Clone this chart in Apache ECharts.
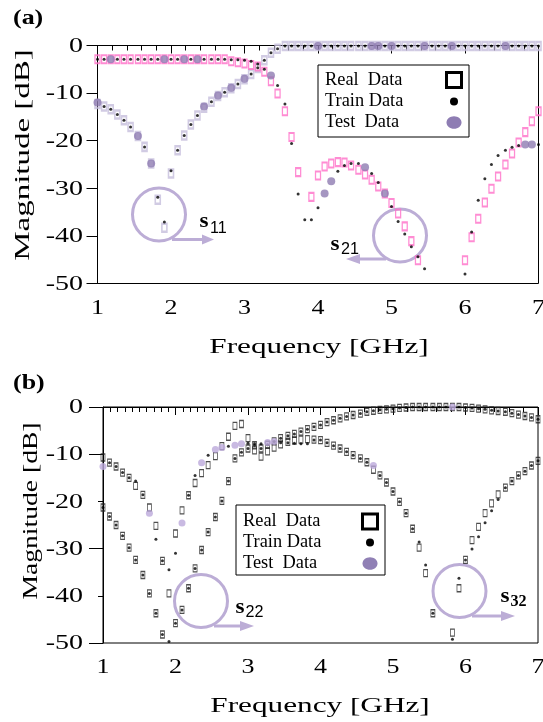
<!DOCTYPE html>
<html>
<head>
    <meta charset="utf-8">
    <title>S-parameters</title>
    <script src="https://cdnjs.cloudflare.com/ajax/libs/echarts/6.0.0/echarts.min.js"></script>
    <style>
        html, body { margin: 0; padding: 0; background: #fff; }
        #main { width: 543px; height: 722px; }
    </style>
</head>
<body>
    <div id="main"></div>
    <script type="text/javascript">
        // frequency grid (GHz), shared by every curve
        var freq = [
            1.00,1.09,1.18,1.27,1.36,1.45,1.55,1.64,1.73,1.82,1.91,
            2.00,2.09,2.18,2.27,2.36,2.45,2.55,2.64,2.73,2.82,2.91,
            3.00,3.09,3.18,3.27,3.36,3.45,3.55,3.64,3.73,3.82,3.91,
            4.00,4.09,4.18,4.27,4.36,4.45,4.55,4.64,4.73,4.82,4.91,
            5.00,5.09,5.18,5.27,5.36,5.45,5.55,5.64,5.73,5.82,5.91,
            6.00,6.09,6.18,6.27,6.36,6.45,6.55,6.64,6.73,6.82,6.91,
            7.00
        ];
        var xTicks = [1, 2, 3, 4, 5, 6, 7];
        var yTicks = [0, -10, -20, -30, -40, -50];
        // panel (b): fine ticks every 0.1 GHz up to 4, then every 0.2 GHz
        var bMinorTicks = [
            1.1,1.2,1.3,1.4,1.5,1.6,1.7,1.8,1.9,
            2.1,2.2,2.3,2.4,2.5,2.6,2.7,2.8,2.9,
            3.1,3.2,3.3,3.4,3.5,3.6,3.7,3.8,3.9,
            4.2,4.4,4.6,4.8,5.2,5.4,5.6,5.8,6.2,6.4,6.6,6.8
        ];
        var bLongYTicks = [0, -10, -30, -50];

        // ---- panel (a) ----
        var s11Real = [
            -12.3,-12.8,-13.4,-14.5,-15.7,-17.1,-19.0,-21.3,-24.8,-32.4,-38.3,
            -26.9,-22.0,-18.9,-16.6,-14.7,-13.1,-11.8,-10.6,-9.8,-9.0,-8.1,
            -7.1,-6.0,-4.7,-3.1,-1.5,-0.7,-0.1,-0.1,-0.1,-0.1,-0.1,
            -0.1,-0.1,-0.1,-0.1,-0.1,-0.1,-0.1,-0.1,-0.1,-0.1,-0.1,
            -0.1,-0.1,-0.1,-0.1,-0.1,-0.1,-0.1,-0.1,-0.1,-0.1,-0.1,
            -0.1,-0.1,-0.1,-0.1,-0.1,-0.1,-0.1,-0.1,-0.1,-0.1,-0.1,
            -0.1
        ];
        var s11Train = [
            null,-12.8,-13.4,-14.5,-15.7,-17.1,null,-21.3,null,-31.9,-37.1,
            -26.3,-22.0,-18.9,-16.6,-14.7,null,-11.8,null,-9.8,null,-8.1,
            null,-6.0,-4.7,-3.1,-1.5,-0.7,-0.1,-0.1,-0.1,-0.1,-0.1,
            null,-0.1,-0.1,-0.1,-0.1,-0.1,-0.1,-0.1,null,null,-0.1,
            null,-0.1,-0.1,-0.1,-0.1,null,-0.1,-0.1,-0.1,null,-0.1,
            -0.1,-0.1,-0.1,-0.1,-0.1,-0.1,null,-0.1,-0.1,-0.1,-0.1,
            -0.1
        ];
        var s11Test = [
            [1.00,-12.0],[1.55,-19.0],[1.73,-24.8],[2.45,-12.8],[2.64,-10.5],
            [2.82,-8.9],[3.00,-7.0],[4.00,-0.1],[4.73,-0.1],[4.82,-0.1],
            [5.00,-0.1],[5.45,-0.1],[5.82,-0.1],[6.55,-0.1]
        ];
        var s21Real = [
            -2.9,-2.9,-2.9,-2.9,-2.9,-2.9,-2.9,-2.9,-2.9,-2.9,-2.9,
            -2.9,-2.9,-2.9,-2.9,-2.9,-2.9,-2.9,-2.9,-2.9,-3.3,-3.5,
            -3.8,-4.1,-4.4,-5.5,-7.5,-10.1,-13.8,-19.2,-26.6,null,-31.8,
            -27.3,-25.4,-24.8,-24.5,-24.6,-25.2,-26.1,-27.1,-28.2,-29.6,-31.1,
            -33.1,-35.3,-38.0,-41.1,-45.1,null,null,null,null,null,null,
            -45.1,-40.3,-36.4,-33.0,-30.1,-27.5,-25.0,-22.7,-20.4,-18.2,-15.9,
            -13.8
        ];
        var s21Train = [
            -2.9,-2.9,null,-2.9,-2.9,-2.9,-2.9,-2.9,-2.9,-2.9,null,
            -2.9,-2.9,null,-2.9,null,-2.9,-2.9,-2.9,-2.9,-3.0,-3.0,
            -3.1,-3.3,-3.9,-5.0,null,-8.4,-12.3,-20.6,-31.2,-36.6,-36.6,
            -34.1,null,null,-26.4,-25.2,-24.8,-24.8,null,-26.9,-28.8,null,
            -33.8,-37.0,-39.6,-42.3,-44.4,-46.9,null,null,null,null,null,
            -48.0,-39.2,-32.5,-28.0,-25.0,-23.1,-22.0,-21.4,-21.0,null,null,
            -20.8
        ];
        var s21Test = [
            [1.18,-2.9],[1.91,-2.9],[2.18,-2.9],[2.36,-2.9],[3.36,-6.3],
            [4.09,-31.1],[4.18,-28.5],[4.64,-25.6],[4.91,-31.1],[6.82,-20.8],[6.91,-20.8]
        ];

        // ---- panel (b) ----
        var s22Real = [
            -10.7,-11.8,-12.6,-13.9,-15.0,-16.7,-18.6,-21.3,-25.2,-32.6,-39.5,
            -26.8,-21.9,-18.7,-16.1,-14.0,-12.3,-10.4,-8.3,-6.3,-4.0,-3.6,
            -6.6,-9.2,-10.5,-9.4,-8.6,-7.9,-7.4,-7.1,-6.9,-6.8,-6.9,
            -7.0,-7.6,-8.2,-8.8,-9.5,-10.2,-10.9,-11.7,-13.3,-14.5,-16.0,
            -17.9,-20.1,-22.5,-25.8,-29.8,-35.2,-43.7,null,null,-47.8,-38.4,
            -32.4,-28.2,-25.4,-22.5,-20.4,-18.5,-17.1,-15.7,-14.5,-13.6,-12.4,
            -11.4
        ];
        var s22Train = [
            null,-11.8,-12.6,-13.9,-15.0,-15.7,-18.6,null,-28.0,-32.6,-34.5,
            -31.0,null,-18.7,-14.5,null,-10.2,null,null,-8.3,null,null,
            -7.7,-7.8,-7.8,null,null,-7.6,-7.6,-7.7,-7.8,-7.8,-7.0,
            -7.0,-7.6,-8.2,-8.8,-9.5,-10.2,-10.9,-11.7,null,-14.5,-16.0,
            -17.9,-20.1,-22.5,-25.8,-28.6,-33.5,-43.7,null,null,-49.2,-36.3,
            -32.4,-30.1,-27.5,-24.5,-22.0,-19.6,-17.1,-15.7,-14.5,-13.6,-12.4,
            -11.4
        ];
        var s22Test = [
            [1.00,-12.6],[1.64,-22.5],[2.09,-24.6],[2.36,-11.8],[2.55,-9.0],
            [2.64,-8.6],[2.82,-8.1],[2.91,-7.8],[3.27,-7.5],[3.36,-7.3],[4.73,-12.4]
        ];
        var s32Real = [
            -21.3,-23.2,-25.0,-27.3,-29.8,-32.4,-35.6,-39.5,-43.7,-48.2,null,
            -45.8,-43.0,-38.4,-34.2,-30.3,-26.5,-23.3,-19.9,-15.7,-10.9,-9.6,
            -8.8,-8.1,-8.8,-8.0,-7.3,-6.6,-6.1,-5.7,-5.2,-4.7,-4.2,
            -3.8,-3.2,-2.8,-2.4,-2.0,-1.7,-1.4,-1.0,-0.8,-0.6,-0.5,
            -0.35,-0.2,-0.1,0,0,0,0,0,0,0,0,
            -0.1,-0.2,-0.35,-0.5,-0.7,-0.85,-1.0,-1.3,-1.6,-1.9,-2.2,
            -2.6
        ];
        var s32Train = [
            -21.3,-23.2,-25.0,-27.3,-29.8,-32.4,-35.6,-39.5,-43.7,-48.2,-49.7,
            -45.8,-43.0,-38.4,-34.2,-30.3,-26.5,-23.3,-19.9,-15.7,-10.9,-9.6,
            -8.8,-8.1,-8.8,-8.0,-7.3,-6.6,-6.1,-5.7,-5.2,-4.7,-4.2,
            -3.8,-3.2,-2.8,-2.4,-2.0,-1.7,-1.4,-1.0,-0.8,-0.6,-0.5,
            -0.35,-0.2,-0.1,0,0,0,0,0,0,null,0,
            -0.1,-0.2,-0.35,-0.5,-0.7,-0.85,-1.0,-1.3,-1.6,-1.9,-2.2,
            -2.6
        ];
        var s32Test = [[5.82, 0]];

        var serif = '"Liberation Serif", "Times New Roman", serif';
        var sans = '"Liberation Sans", Arial, sans-serif';

        function pts(arr) {
            var out = [];
            for (var i = 0; i < freq.length; i++) {
                if (arr[i] !== null) out.push([freq[i], arr[i]]);
            }
            return out;
        }

        function realSeries(g, data, color, w, h, lw) {
            return {
                type: 'scatter', xAxisIndex: g, yAxisIndex: g, clip: false,
                symbol: 'rect', symbolSize: [w, h], data: pts(data),
                itemStyle: { color: 'rgba(0,0,0,0)', borderColor: color, borderWidth: lw },
                silent: true
            };
        }
        function trainSeries(g, data) {
            return {
                type: 'scatter', xAxisIndex: g, yAxisIndex: g, clip: false,
                symbol: 'circle', symbolSize: 3, data: pts(data),
                itemStyle: { color: '#000' }, silent: true
            };
        }
        function testSeries(g, data, color, size) {
            return {
                type: 'scatter', xAxisIndex: g, yAxisIndex: g, clip: false,
                symbol: 'circle', symbolSize: size, data: data,
                itemStyle: { color: color }, silent: true
            };
        }

        function xAx(g, minor) {
            return {
                gridIndex: g, type: 'value', min: 1, max: 7, interval: 1, position: 'bottom',
                axisLine: { lineStyle: { color: '#000', width: 1 } },
                axisTick: { length: 8, lineStyle: { color: '#000' } },
                minorTick: { show: minor, splitNumber: 5, length: 5, lineStyle: { color: '#000' } },
                axisLabel: { show: false },
                splitLine: { show: false }
            };
        }
        function yAx(g, len) {
            return {
                gridIndex: g, type: 'value', min: -50, max: 0, interval: 10, position: 'left',
                axisLine: { lineStyle: { color: '#000', width: 1 } },
                axisTick: { length: len, lineStyle: { color: '#000' } },
                axisLabel: { show: false },
                splitLine: { show: false }
            };
        }

        var myChart = echarts.init(document.getElementById('main'), null, { renderer: 'canvas' });

        var option = {
            animation: false,
            backgroundColor: '#fff',
            grid: [
                { left: 97.5, top: 45.5, width: 441, height: 238, show: true, borderColor: '#000', borderWidth: 1 },
                { left: 103, top: 407, width: 435, height: 236, show: true, borderColor: '#000', borderWidth: 1 }
            ],
            xAxis: [
                xAx(0, true),
                xAx(1, false),
                {
                    gridIndex: 1, type: 'value', min: 1, max: 7, position: 'bottom',
                    axisLine: { show: false }, axisLabel: { show: false }, splitLine: { show: false },
                    axisTick: { show: true, customValues: bMinorTicks, length: 5, lineStyle: { color: '#000' } }
                }
            ],
            yAxis: [
                yAx(0, 11),
                yAx(1, 5),
                {
                    gridIndex: 1, type: 'value', min: -50, max: 0, position: 'left',
                    axisLine: { show: false }, axisLabel: { show: false }, splitLine: { show: false },
                    axisTick: { show: true, customValues: bLongYTicks, length: 14, lineStyle: { color: '#000' } }
                }
            ],
            series: [
                realSeries(0, s11Real, '#c6bedc', 5, 8, 2),
                realSeries(0, s21Real, '#ff6fc8', 5, 8, 1.6),
                trainSeries(0, s11Train),
                trainSeries(0, s21Train),
                testSeries(0, s11Test, '#8e7cb2', 8),
                testSeries(0, s21Test, '#8e7cb2', 8),
                realSeries(1, s22Real, '#222', 4, 7, 1),
                realSeries(1, s32Real, '#222', 4, 7, 1),
                trainSeries(1, s22Train),
                trainSeries(1, s32Train),
                testSeries(1, s22Test, '#bba9db', 7),
                testSeries(1, s32Test, '#bba9db', 7)
            ]
        };
        myChart.setOption(option);

        // ---- texts and decorations (the original typeface is wide, so texts are stretched) ----
        var g = [];
        function txt(x, y, s, font, align, vAlign, sx, rot) {
            g.push({
                type: 'text', x: x, y: y, scaleX: sx || 1, rotation: rot || 0,
                style: { text: s, font: font, fill: '#000', align: align || 'left', verticalAlign: vAlign || 'middle' }
            });
        }

        [0, 1].forEach(function (gi) {
            xTicks.forEach(function (v) {
                var p = myChart.convertToPixel({ gridIndex: gi }, [v, -50]);
                txt(p[0], p[1] + 25, String(v), '20px ' + serif, 'center', 'middle', 1.3);
            });
            yTicks.forEach(function (v) {
                var p = myChart.convertToPixel({ gridIndex: gi }, [1, v]);
                txt(83, p[1] + 1, String(v), '20px ' + serif, 'right', 'middle', 1.4);
            });
        });
        txt(319, 347, 'Frequency [GHz]', '22px ' + serif, 'center', 'middle', 1.42);
        txt(320, 706, 'Frequency [GHz]', '22px ' + serif, 'center', 'middle', 1.42);
        txt(23, 155, 'Magnitude [dB]', '22px ' + serif, 'center', 'middle', 1.5, Math.PI / 2);
        txt(32, 511, 'Magnitude [dB]', '20px ' + serif, 'center', 'middle', 1.38, Math.PI / 2);
        txt(13, 18, '(a)', 'bold 22px ' + serif, 'left', 'middle', 1.18);
        txt(13, 383, '(b)', 'bold 22px ' + serif, 'left', 'middle', 1.18);

        function legendBox(x, y, w, h, rows, tx, sx, fill) {
            g.push({ type: 'rect', shape: { x: x, y: y, width: w, height: h },
                style: { fill: '#fff', stroke: '#000', lineWidth: 1 } });
            var names = ['Real  Data', 'Train Data', 'Test  Data'];
            names.forEach(function (t, i) { txt(tx, rows[i], t, '18px ' + serif, 'left', 'middle', 1.02); });
            g.push({ type: 'rect', shape: { x: sx - 7.5, y: rows[0] - 7.5, width: 15, height: 15 },
                style: { fill: 'none', stroke: '#000', lineWidth: 3 } });
            g.push({ type: 'circle', shape: { cx: sx, cy: rows[1], r: 4 }, style: { fill: '#000' } });
            g.push({ type: 'ellipse', shape: { cx: sx, cy: rows[2], rx: 7.5, ry: 6.3 }, style: { fill: fill } });
        }
        legendBox(318, 65, 151, 72, [80, 101.5, 122.5], 325, 454, '#8e7db3');
        legendBox(236, 505, 149, 70, [521.5, 542.5, 563.5], 243, 370, '#9080b5');

        function marker(cx, cy, ay, x1, x2, tip, sx, sy, sub, subX, subY, subBold) {
            var c = '#bcadd6';
            var d = tip > x2 ? 1 : -1;
            g.push({ type: 'circle', shape: { cx: cx, cy: cy, r: 26.5 }, style: { fill: 'none', stroke: c, lineWidth: 3 } });
            g.push({ type: 'line', shape: { x1: x1, y1: ay, x2: x2, y2: ay }, style: { stroke: c, lineWidth: 3 } });
            g.push({ type: 'polygon', shape: { points: [[x2 - d * 2, ay - 5], [tip, ay], [x2 - d * 2, ay + 5]] }, style: { fill: c } });
            txt(sx, sy, 's', 'bold 22px ' + serif, 'center', 'middle', 1.05);
            txt(subX, subY, sub, subBold ? 'bold 17px ' + serif : '17px ' + sans, 'left', 'middle', 0.95);
        }
        marker(159, 214.5, 239.5, 172, 204, 214, 204, 221, '11', 210, 228, false);
        marker(400, 235.5, 259, 386, 358, 346, 335, 244, '21', 341, 249, false);
        marker(201, 601, 626, 214, 242, 254, 240, 607, '22', 245.5, 612, false);
        marker(459.5, 591, 616, 472, 503, 515, 505, 596, '32', 510.5, 602, true);

        myChart.setOption({ graphic: g });
    </script>
</body>
</html>
